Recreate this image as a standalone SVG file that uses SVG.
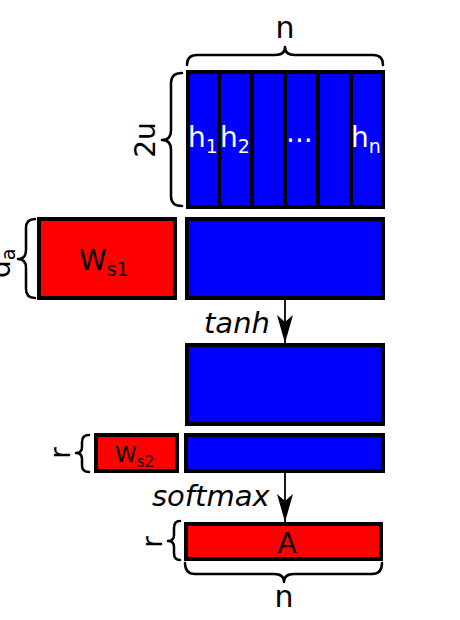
<svg xmlns="http://www.w3.org/2000/svg" width="460" height="620" viewBox="0 0 460 620">
<style>
.blue{fill:#0000ff;stroke:#000;stroke-width:4}
.red{fill:#ff0000;stroke:#000;stroke-width:4}
.div{stroke:#000;stroke-width:4}
.brace{fill:none;stroke:#000;stroke-width:2.5;stroke-linecap:round;stroke-linejoin:round}
text{font-family:"DejaVu Sans","Liberation Sans",sans-serif;fill:#000}
.w{fill:#fff}
.it{font-style:italic}
.conn{stroke:#000;stroke-width:1.8;fill:none;marker-end:url(#ah)}
</style>
<defs>
<marker id="ah" markerUnits="userSpaceOnUse" markerWidth="40" markerHeight="20" viewBox="-30 -10 32 20" refX="0" refY="0" orient="auto" overflow="visible">
<path d="M0,0 L-28,-8 L-21,0 L-28,8 Z" fill="#000"/>
</marker>
</defs>
<g id="H">
<rect class="blue" x="188" y="72" width="195" height="135"/>
<line class="div" x1="219" y1="72" x2="219" y2="207"/>
<line class="div" x1="252" y1="72" x2="252" y2="207"/>
<line class="div" x1="285" y1="72" x2="285" y2="207"/>
<line class="div" x1="318" y1="72" x2="318" y2="207"/>
<line class="div" x1="351" y1="72" x2="351" y2="207"/>
<text class="w" x="188" y="147" font-size="28">h<tspan font-size="19" dy="6">1</tspan></text>
<text class="w" x="220" y="147" font-size="28">h<tspan font-size="19" dy="6">2</tspan></text>
<text class="w" x="286" y="142" font-size="28">...</text>
<text class="w" x="351" y="147" font-size="28">h<tspan font-size="19" dy="6">n</tspan></text>
<path class="brace" d="M187,65 Q187,55 197,55 L275,55 Q285,55 285,47 Q285,55 295,55 L373,55 Q383,55 383,65"/>
<text x="285" y="38" font-size="30" text-anchor="middle">n</text>
<path class="brace" d="M182,73 Q171,73 171,83 L171,130 Q171,140 162,140 Q171,140 171,150 L171,196 Q171,206 182,206"/>
<text transform="translate(155,140) rotate(-90)" font-size="28" text-anchor="middle">2u</text>
</g>
<g id="Ws1">
<rect class="red" x="39" y="219" width="136" height="79"/>
<text x="79" y="270" font-size="28">W<tspan font-size="19" dy="6">s1</tspan></text>
<path class="brace" d="M35,219 Q26,219 26,228 L26,250 Q26,259 18,259 Q26,259 26,268 L26,289 Q26,298 35,298"/>
<text transform="translate(10,278) rotate(-90)" font-size="28">d<tspan font-size="19" dy="5">a</tspan></text>
</g>
<g id="M1">
<rect class="blue" x="187" y="219" width="196" height="79"/>
</g>
<g id="M2">
<rect class="blue" x="187" y="345" width="196" height="79"/>
</g>
<g id="Ws2">
<rect class="red" x="96" y="435" width="81" height="36"/>
<text x="115" y="462" font-size="22">W<tspan font-size="15" dy="5">s2</tspan></text>
<path class="brace" d="M89,435 Q82,435 82,442 L82,447 Q82,453 76,453 Q82,453 82,459 L82,465 Q82,472 89,472"/>
<text transform="translate(70,453) rotate(-90)" font-size="28" text-anchor="middle">r</text>
</g>
<g id="M3">
<rect class="blue" x="186" y="435" width="197" height="36"/>
</g>
<g id="A">
<rect class="red" x="186" y="524" width="195" height="35"/>
<text x="287" y="553" font-size="28" text-anchor="middle">A</text>
<path class="brace" d="M180,521 Q174,521 174,528 L174,535 Q174,541 168,541 Q174,541 174,547 L174,553 Q174,560 180,560"/>
<text transform="translate(162,542) rotate(-90)" font-size="28" text-anchor="middle">r</text>
<path class="brace" d="M185,563 Q185,574 195,574 L274,574 Q284,574 284,582 Q284,574 294,574 L372,574 Q382,574 382,563"/>
<text x="284" y="607" font-size="30" text-anchor="middle">n</text>
</g>
<g id="connectors">
<path class="conn" d="M285,300 L285,343"/>
<text class="it" x="204" y="333" font-size="29">tanh</text>
<path class="conn" d="M285,473 L285,522"/>
<text class="it" x="152" y="506" font-size="29">softmax</text>
</g>
</svg>
